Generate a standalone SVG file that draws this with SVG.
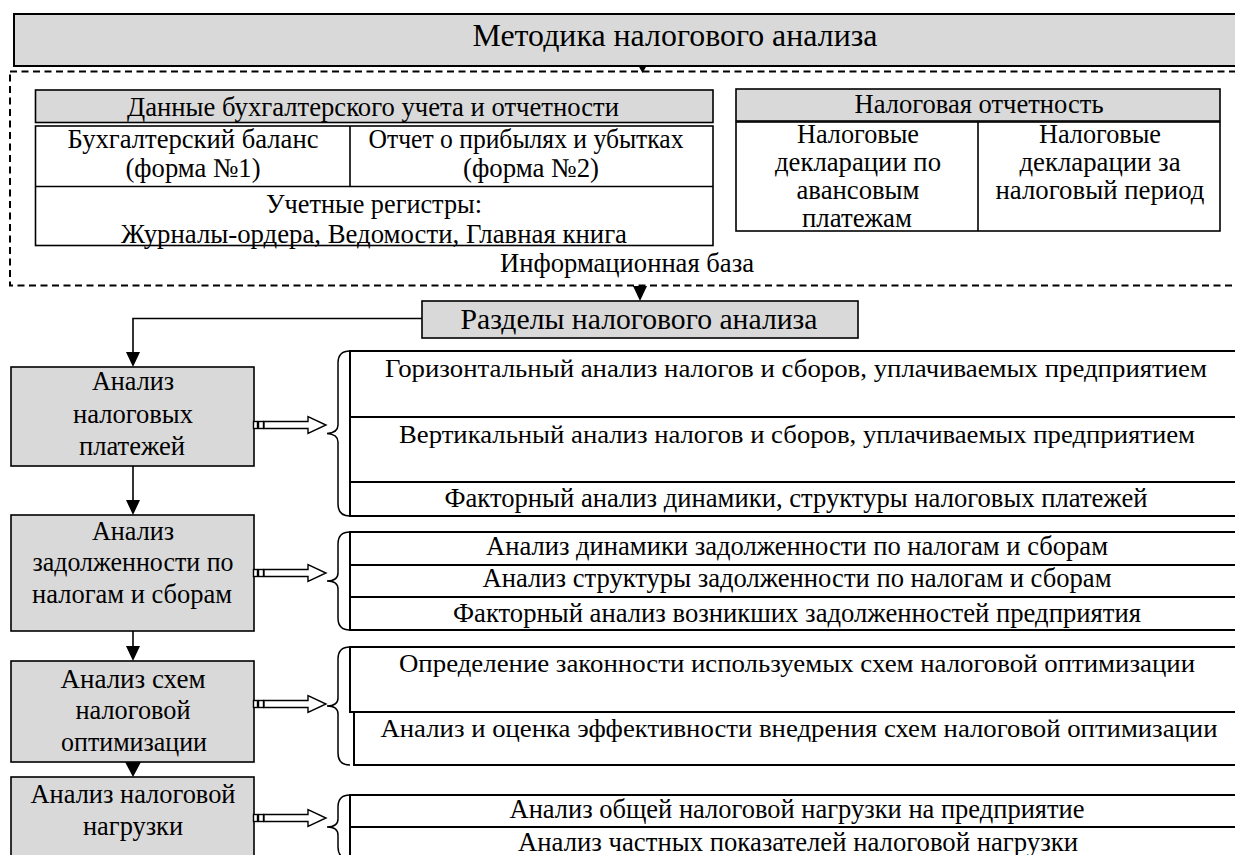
<svg xmlns="http://www.w3.org/2000/svg" width="1235" height="855" viewBox="0 0 1235 855" font-family="'Liberation Serif', 'DejaVu Serif', 'Times New Roman', serif">
  <style>
    text { font-size: 27px; fill: #000; text-anchor: middle; }
    text.t { font-size: 32px; }
    text.s { font-size: 29px; }
    text.w { font-size: 25px; }
    .box { fill: #fff; stroke: #000; stroke-width: 1.6; }
    .gray { fill: #d9d9d9; stroke: #000; stroke-width: 1.6; }
    .ln { fill: none; stroke: #000; stroke-width: 1.6; }
    .grp { fill: none; stroke: #000; stroke-width: 2; }
    .brace { fill: none; stroke: #000; stroke-width: 1.5; }
    .head { fill: #000; stroke: none; }
  </style>
  <defs>
    <!-- striped hollow block arrow, centred on y = 0 -->
    <g id="striped-arrow" fill="#fff" stroke="#000" stroke-width="1.4">
      <rect x="253.5" y="-3.5" width="4" height="7"/>
      <rect x="258.5" y="-3.5" width="5" height="7"/>
      <polygon points="264,-3.5 308,-3.5 308,-8.5 326,0 308,8.5 308,3.5 264,3.5"/>
    </g>
  </defs>
  <rect width="1235" height="855" fill="#fff"/>

  <!-- heading -->
  <g id="title">
    <rect x="14" y="14" width="1240" height="52" fill="#d9d9d9" stroke="#000" stroke-width="2"/>
    <text class="t" x="675" y="46" textLength="405" lengthAdjust="spacingAndGlyphs">Методика налогового анализа</text>
  </g>

  <!-- information base frame -->
  <g id="info-base">
    <rect x="10" y="71.5" width="1240" height="214" fill="none" stroke="#000" stroke-width="2" stroke-dasharray="7 4.5"/>
    <text x="627" y="272" textLength="254" lengthAdjust="spacingAndGlyphs">Информационная база</text>
  </g>

  <g id="accounting-data">
    <rect class="gray" x="35.5" y="90" width="677.5" height="32.5"/>
    <text x="373" y="116" textLength="492" lengthAdjust="spacingAndGlyphs">Данные бухгалтерского учета и отчетности</text>
    <text x="193" y="148" textLength="251" lengthAdjust="spacingAndGlyphs">Бухгалтерский баланс</text>
    <text x="193" y="177" textLength="135" lengthAdjust="spacingAndGlyphs">(форма №1)</text>
    <text x="526" y="148" textLength="315" lengthAdjust="spacingAndGlyphs">Отчет о прибылях и убытках</text>
    <text x="531" y="177" textLength="136" lengthAdjust="spacingAndGlyphs">(форма №2)</text>
    <text x="374" y="213" textLength="216" lengthAdjust="spacingAndGlyphs">Учетные регистры:</text>
    <text x="374" y="243" textLength="506" lengthAdjust="spacingAndGlyphs">Журналы-ордера, Ведомости, Главная книга</text>
    <rect class="ln" x="35.5" y="126" width="677.5" height="119.5"/>
    <line class="ln" x1="35.5" y1="186.5" x2="713" y2="186.5"/>
    <line class="ln" x1="350" y1="126" x2="350" y2="186.5"/>
  </g>

  <g id="tax-reporting">
    <rect class="gray" x="736" y="89" width="484" height="32"/>
    <text x="979" y="113" textLength="249" lengthAdjust="spacingAndGlyphs">Налоговая отчетность</text>
    <rect class="box" x="736" y="122" width="484" height="109"/>
    <line class="ln" x1="978" y1="122" x2="978" y2="231"/>
    <text x="858" y="143" textLength="122" lengthAdjust="spacingAndGlyphs">Налоговые</text>
    <text x="858" y="171" textLength="166" lengthAdjust="spacingAndGlyphs">декларации по</text>
    <text x="858" y="199" textLength="123" lengthAdjust="spacingAndGlyphs">авансовым</text>
    <text x="857" y="227" textLength="110" lengthAdjust="spacingAndGlyphs">платежам</text>
    <text x="1100" y="143" textLength="122" lengthAdjust="spacingAndGlyphs">Налоговые</text>
    <text x="1100" y="171" textLength="161" lengthAdjust="spacingAndGlyphs">декларации за</text>
    <text x="1100" y="199" textLength="209" lengthAdjust="spacingAndGlyphs">налоговый период</text>
  </g>

  <g id="sections">
    <rect class="gray" x="422" y="301" width="436" height="37"/>
    <text class="s" x="639" y="329" textLength="357" lengthAdjust="spacingAndGlyphs">Разделы налогового анализа</text>
  </g>

  <!-- left column -->
  <g id="tax-payments">
    <rect class="gray" x="11" y="367" width="243" height="99"/>
    <text x="133" y="390" textLength="82" lengthAdjust="spacingAndGlyphs">Анализ</text>
    <text x="133" y="423" textLength="120" lengthAdjust="spacingAndGlyphs">налоговых</text>
    <text x="132" y="455" textLength="106" lengthAdjust="spacingAndGlyphs">платежей</text>
  </g>
  <g id="tax-debt">
    <rect class="gray" x="11" y="515" width="243" height="116"/>
    <text x="133" y="540" textLength="82" lengthAdjust="spacingAndGlyphs">Анализ</text>
    <text x="133" y="571" textLength="201" lengthAdjust="spacingAndGlyphs">задолженности по</text>
    <text x="132" y="603" textLength="200" lengthAdjust="spacingAndGlyphs">налогам и сборам</text>
  </g>
  <g id="optimization">
    <rect class="gray" x="11" y="661" width="243" height="101"/>
    <text x="133" y="688" textLength="145" lengthAdjust="spacingAndGlyphs">Анализ схем</text>
    <text x="133" y="719" textLength="115" lengthAdjust="spacingAndGlyphs">налоговой</text>
    <text x="134" y="751" textLength="146" lengthAdjust="spacingAndGlyphs">оптимизации</text>
  </g>
  <g id="tax-burden">
    <rect class="gray" x="11" y="777" width="243" height="90"/>
    <text x="133" y="803" textLength="205" lengthAdjust="spacingAndGlyphs">Анализ налоговой</text>
    <text x="133" y="835" textLength="100" lengthAdjust="spacingAndGlyphs">нагрузки</text>
  </g>

  <!-- right column lists -->
  <g id="payments-list">
    <path class="brace" d="M350,351 C342,351 338,355 338,363 L338,425 C338,430 334,433 327,433.5 C334,434 338,437 338,442 L338,504 C338,512 342,516 350,516"/>
    <rect class="grp" x="350" y="351" width="900" height="165"/>
    <line class="grp" x1="350" y1="417" x2="1250" y2="417"/>
    <line class="grp" x1="350" y1="482" x2="1250" y2="482"/>
    <text class="w" x="796" y="377" textLength="822" lengthAdjust="spacingAndGlyphs">Горизонтальный анализ налогов и сборов, уплачиваемых предприятием</text>
    <text class="w" x="797" y="443" textLength="796" lengthAdjust="spacingAndGlyphs">Вертикальный анализ налогов и сборов, уплачиваемых предприятием</text>
    <text x="796" y="507" textLength="703" lengthAdjust="spacingAndGlyphs">Факторный анализ динамики, структуры налоговых платежей</text>
  </g>
  <g id="debt-list">
    <path class="brace" d="M350,532 C342,532 338,536 338,544 L338,573 C338,578 334,581 327,581 C334,581 338,584 338,589 L338,618 C338,626 342,630 350,630"/>
    <rect class="grp" x="350" y="532" width="900" height="98"/>
    <line class="grp" x1="350" y1="565" x2="1250" y2="565"/>
    <line class="grp" x1="350" y1="597" x2="1250" y2="597"/>
    <text x="797" y="555" textLength="622" lengthAdjust="spacingAndGlyphs">Анализ динамики задолженности по налогам и сборам</text>
    <text x="797" y="587" textLength="629" lengthAdjust="spacingAndGlyphs">Анализ структуры задолженности по налогам и сборам</text>
    <text x="797" y="622" textLength="688" lengthAdjust="spacingAndGlyphs">Факторный анализ возникших задолженностей предприятия</text>
  </g>
  <g id="optimization-list">
    <path class="brace" d="M350,647 C342,647 338,651 338,659 L338,698 C338,703 334,706 327,706 C334,706 338,709 338,714 L338,753 C338,761 342,765 350,765"/>
    <rect class="grp" x="350" y="647" width="900" height="65"/>
    <rect class="grp" x="354" y="712" width="896" height="53"/>
    <text class="w" x="797" y="672" textLength="796" lengthAdjust="spacingAndGlyphs">Определение законности используемых схем налоговой оптимизации</text>
    <text class="w" x="799" y="737" textLength="837" lengthAdjust="spacingAndGlyphs">Анализ и оценка эффективности внедрения схем налоговой оптимизации</text>
  </g>
  <g id="burden-list">
    <path class="brace" d="M350,795 C342,795 338,799 338,807 L338,819 C338,824 334,827 327,827 C334,827 338,830 338,835 L338,847 C338,855 342,859 350,859"/>
    <rect class="grp" x="350" y="795" width="900" height="70"/>
    <line class="grp" x1="350" y1="827" x2="1250" y2="827"/>
    <text x="797" y="818" textLength="575" lengthAdjust="spacingAndGlyphs">Анализ общей налоговой нагрузки на предприятие</text>
    <text x="798" y="851" textLength="560" lengthAdjust="spacingAndGlyphs">Анализ частных показателей налоговой нагрузки</text>
  </g>

  <!-- connectors -->
  <g id="connectors">
    <polygon class="head" points="638.5,66 646.5,66 642.5,73"/>
    <polygon class="head" points="633,286 647,286 640,301"/>
    <path class="ln" d="M422,318.5 H133 V353"/>
    <polygon class="head" points="126,352 140,352 133,367"/>
    <line class="ln" x1="133" y1="466" x2="133" y2="501"/>
    <polygon class="head" points="126,500 140,500 133,515"/>
    <line class="ln" x1="133" y1="631" x2="133" y2="647"/>
    <polygon class="head" points="126,646 140,646 133,661"/>
    <polygon class="head" points="125,762 141,762 133,777"/>
    <use href="#striped-arrow" transform="translate(0,425)"/>
    <use href="#striped-arrow" transform="translate(0,573)"/>
    <use href="#striped-arrow" transform="translate(0,704)"/>
    <use href="#striped-arrow" transform="translate(0,818)"/>
  </g>
</svg>
